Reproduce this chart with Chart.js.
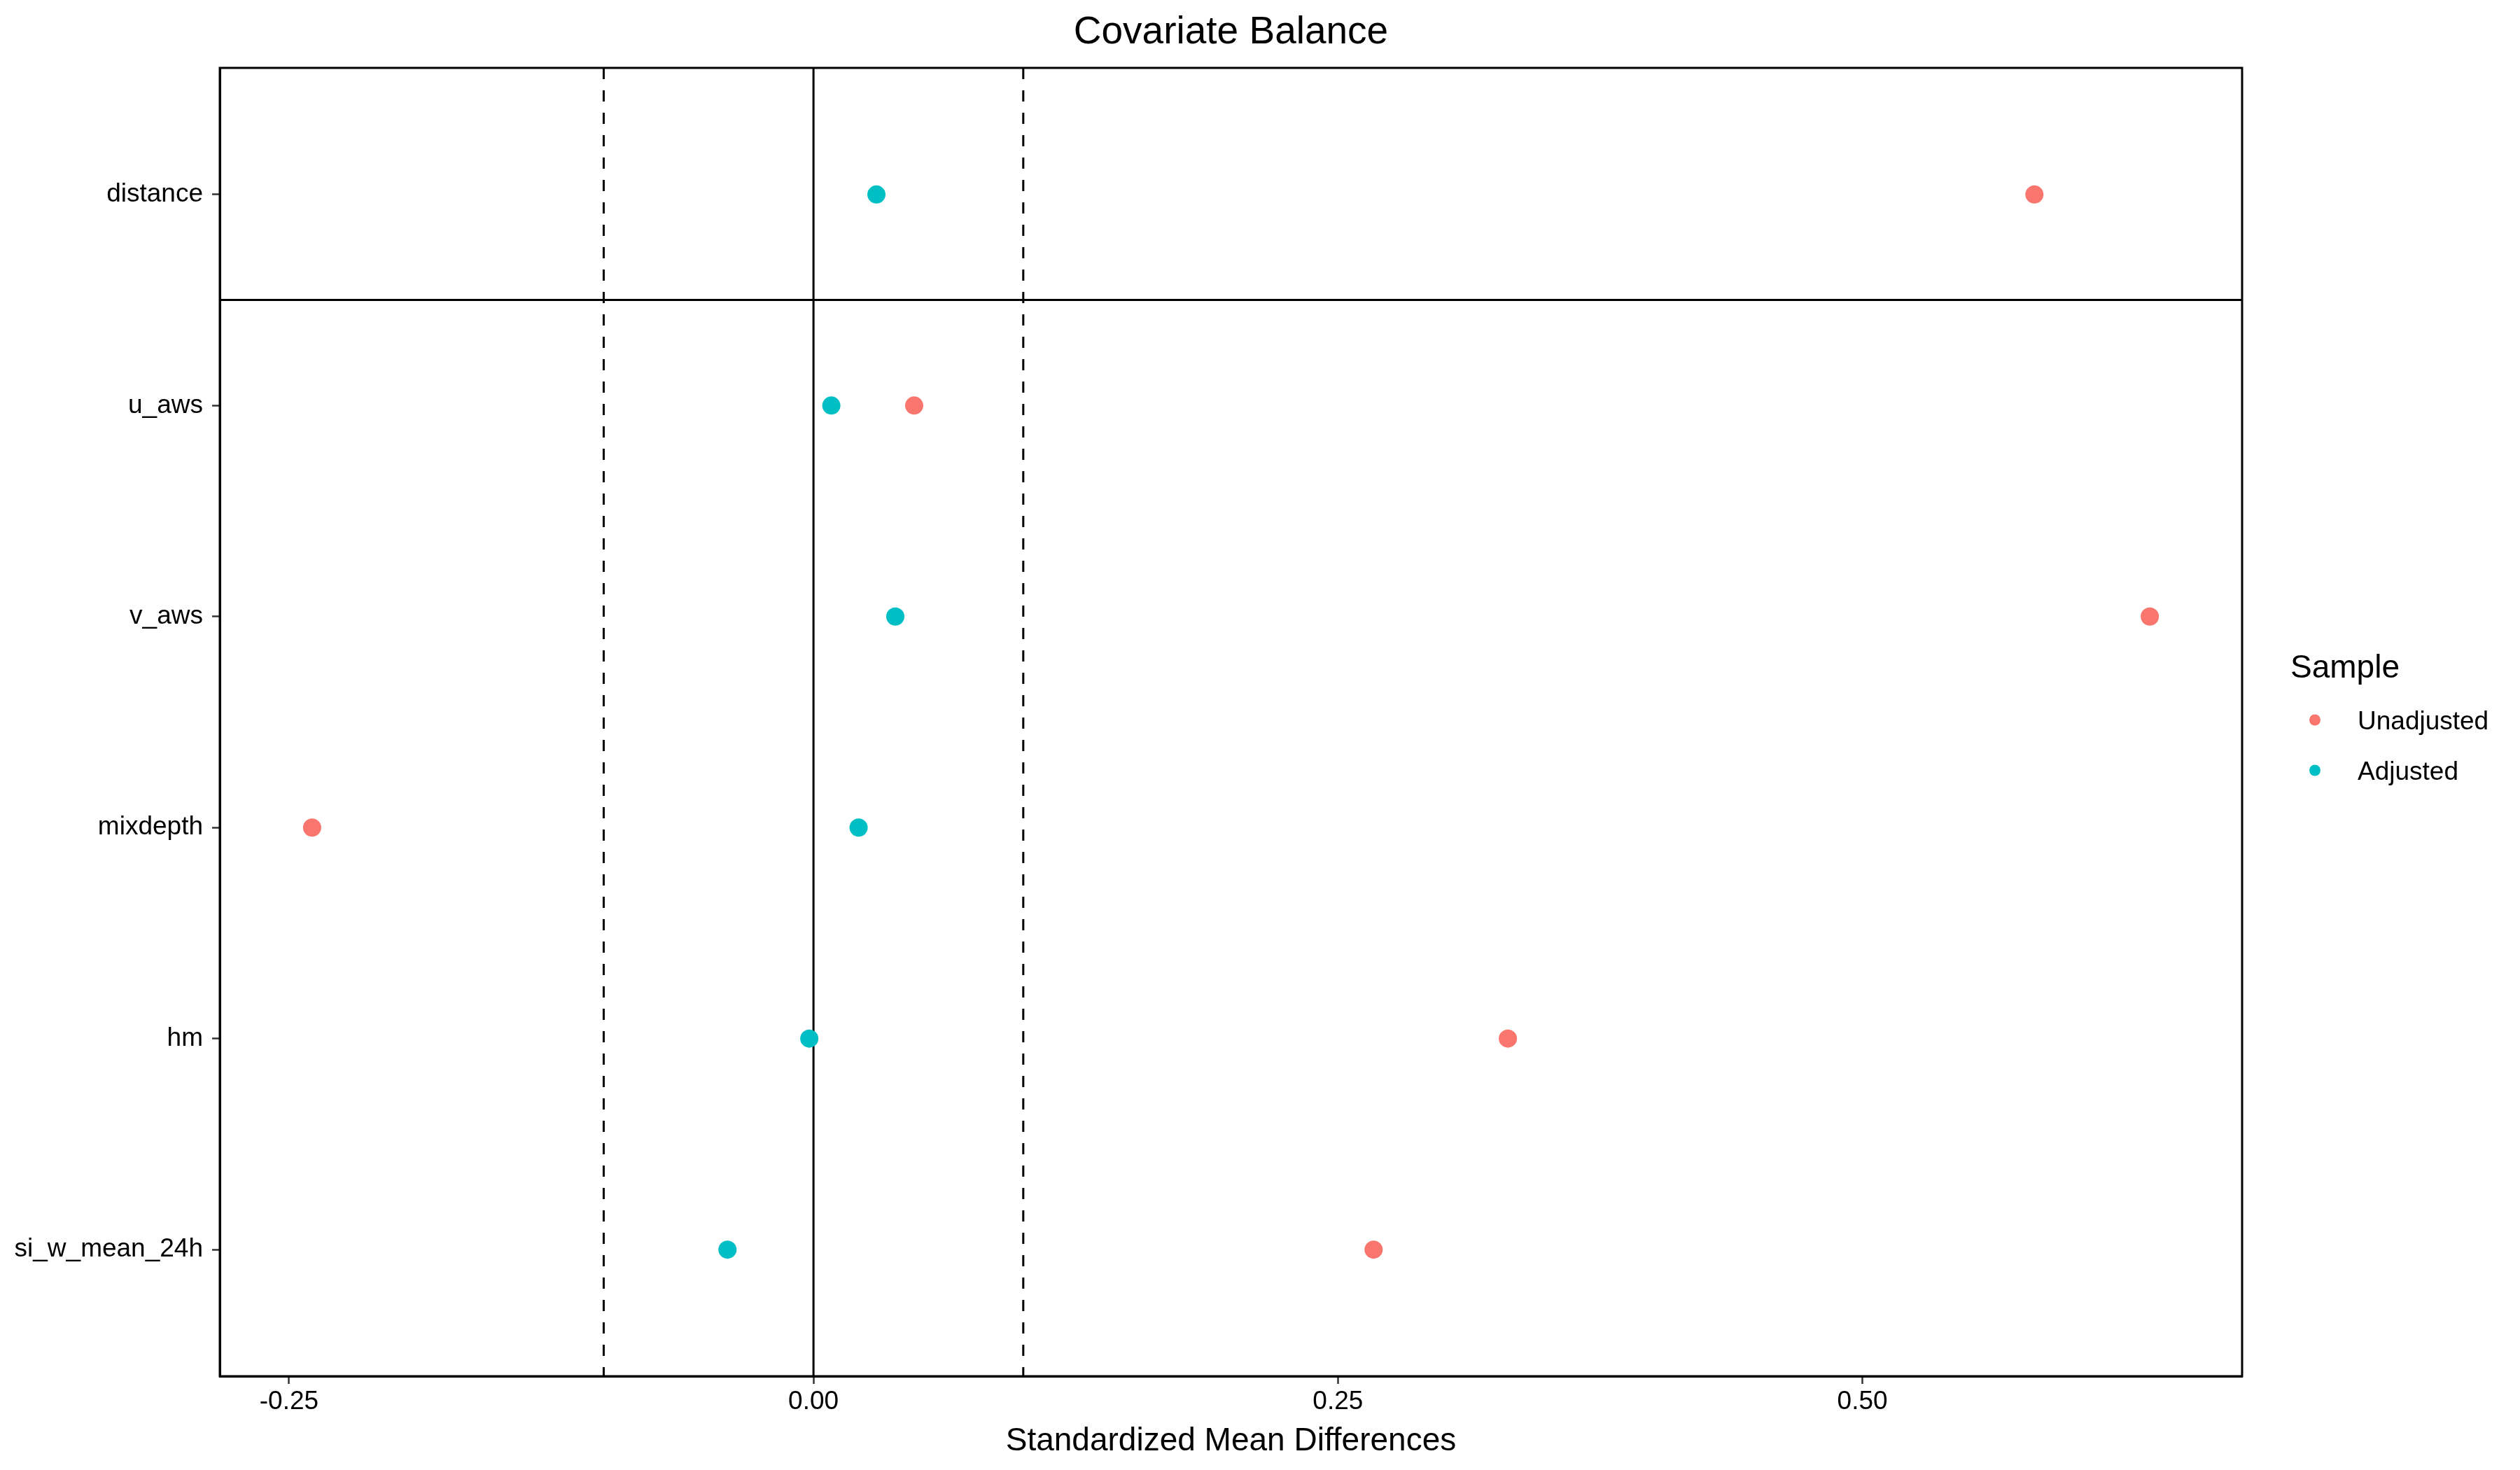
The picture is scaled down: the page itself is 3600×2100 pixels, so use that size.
<!DOCTYPE html>
<html>
<head>
<meta charset="utf-8">
<title>Covariate Balance</title>
<script src="https://cdn.jsdelivr.net/npm/chart.js@4.4.0/dist/chart.umd.min.js"></script>
<style>
  body { margin: 0; background: #fff; }
  canvas { display: block; }
</style>
</head>
<body>
<canvas id="balanceChart" width="3600" height="2100"></canvas>
<script>
// covariates, top to bottom
const covariates = ['distance', 'u_aws', 'v_aws', 'mixdepth', 'hm', 'si_w_mean_24h'];
const unadjusted = [0.582, 0.048, 0.637, -0.239, 0.331, 0.267];
const adjusted = [0.030, 0.0085, 0.039, 0.0215, -0.002, -0.041];

const xTicks = [-0.25, 0, 0.25, 0.5];
const thresholds = [-0.1, 0.1];
const zeroLine = [0];
const separatorAt = [1.5]; // line between distance and the rest

const xMin = -0.283, xMax = 0.681;
const yMin = 0.4, yMax = 6.6;

const red = '#F8766D';
const teal = '#00BFC4';
const font = '"Liberation Sans", Arial, sans-serif';

function points(values) {
  return values.map((v, i) => ({ x: v, y: i + 1 }));
}

function vline(x, dash) {
  return {
    type: 'line',
    data: [{ x: x, y: yMin }, { x: x, y: yMax }],
    borderColor: '#000',
    borderWidth: 3,
    borderDash: dash,
    pointRadius: 0,
    showLine: true,
    fill: false
  };
}

function hline(y) {
  return {
    type: 'line',
    data: [{ x: xMin, y: y }, { x: xMax, y: y }],
    borderColor: '#000',
    borderWidth: 3,
    pointRadius: 0,
    showLine: true,
    fill: false
  };
}

const datasets = [
  { label: 'Unadjusted', data: points(unadjusted), backgroundColor: red, borderWidth: 0, pointRadius: 13 },
  { label: 'Adjusted', data: points(adjusted), backgroundColor: teal, borderWidth: 0, pointRadius: 13 }
];
zeroLine.forEach(x => datasets.push(vline(x, [])));
thresholds.forEach(x => datasets.push(vline(x, [16, 16])));
separatorAt.forEach(y => datasets.push(hline(y)));

// frame + legend drawn by hand
const extras = {
  id: 'extras',
  afterDatasetsDraw(chart) {
    const ctx = chart.ctx;
    const a = chart.chartArea;
    ctx.save();
    ctx.strokeStyle = '#000';
    ctx.lineWidth = 3;
    ctx.strokeRect(a.left, a.top, a.right - a.left, a.bottom - a.top);

    const mid = (a.top + a.bottom) / 2;
    ctx.fillStyle = '#000';
    ctx.textBaseline = 'alphabetic';
    ctx.font = '46px ' + font;
    ctx.fillText('Sample', a.right + 69, mid - 64);

    const items = [['Unadjusted', red], ['Adjusted', teal]];
    items.forEach((it, i) => {
      const y = mid - 3 + i * 72;
      ctx.beginPath();
      ctx.fillStyle = it[1];
      ctx.arc(a.right + 104, y, 8, 0, Math.PI * 2);
      ctx.fill();
      ctx.fillStyle = '#000';
      ctx.font = '37px ' + font;
      ctx.fillText(it[0], a.right + 165, y + 13);
    });
    ctx.restore();
  }
};

new Chart(document.getElementById('balanceChart'), {
  type: 'scatter',
  data: { datasets: datasets },
  options: {
    responsive: false,
    animation: false,
    devicePixelRatio: 1,
    layout: { padding: { top: 0, right: 397, left: 0, bottom: 0 } },
    plugins: {
      legend: { display: false },
      tooltip: { enabled: false },
      title: {
        display: true,
        text: 'Covariate Balance',
        fullSize: false,
        color: '#000',
        font: { family: font, size: 55, weight: 'normal' },
        padding: { top: 14, bottom: 17 }
      }
    },
    scales: {
      x: {
        type: 'linear',
        min: xMin,
        max: xMax,
        afterBuildTicks: s => { s.ticks = xTicks.map(v => ({ value: v })); },
        afterFit: s => { s.height = 134; },
        ticks: {
          color: '#000',
          font: { family: font, size: 37 },
          padding: 4,
          maxRotation: 0,
          callback: v => v.toFixed(2)
        },
        grid: { drawOnChartArea: false, drawTicks: true, tickLength: 11, tickColor: '#333', tickWidth: 2.5 },
        border: { display: true, color: '#000', width: 3 },
        title: {
          display: true,
          text: 'Standardized Mean Differences',
          color: '#000',
          font: { family: font, size: 46 },
          padding: { top: 0, bottom: 13 }
        }
      },
      y: {
        type: 'linear',
        min: yMin,
        max: yMax,
        reverse: true,
        afterBuildTicks: s => { s.ticks = covariates.map((c, i) => ({ value: i + 1 })); },
        afterFit: s => { s.width = 314; },
        ticks: {
          color: '#000',
          font: { family: font, size: 37 },
          padding: 13,
          callback: v => covariates[v - 1]
        },
        grid: { drawOnChartArea: false, drawTicks: true, tickLength: 11, tickColor: '#333', tickWidth: 2.5 },
        border: { display: true, color: '#000', width: 3 }
      }
    }
  },
  plugins: [extras]
});
</script>
</body>
</html>
